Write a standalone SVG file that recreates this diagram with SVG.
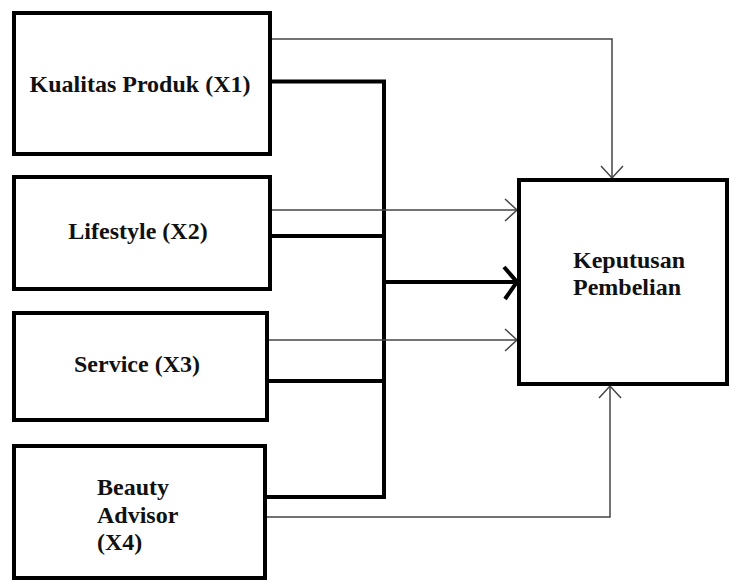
<svg xmlns="http://www.w3.org/2000/svg" width="732" height="581" viewBox="0 0 732 581">
<style>
.box{fill:#fff;stroke:#000;stroke-width:4}
.lbl{font-family:"Liberation Serif","Times New Roman",serif;font-weight:bold;font-size:24px;fill:#111}
.thin{fill:none;stroke:#444;stroke-width:1.5}
.thick{fill:none;stroke:#000;stroke-width:4}
</style>
<defs>
<marker id="arT" markerUnits="userSpaceOnUse" markerWidth="30" markerHeight="30" refX="0" refY="0" viewBox="-15 -15 30 30" orient="auto" overflow="visible">
<path d="M-12,-11 L0,0 L-12,11" fill="none" stroke="#444" stroke-width="1.5"/>
</marker>
<marker id="arK" markerUnits="userSpaceOnUse" markerWidth="40" markerHeight="40" refX="0" refY="0" viewBox="-20 -20 40 40" orient="auto" overflow="visible">
<path d="M-13,-15 L0,0 L-12,17" fill="none" stroke="#000" stroke-width="4"/>
</marker>
</defs>
<g id="connectors">
<path class="thick" d="M270,81.5 H384 V497 H265"/>
<path class="thick" d="M270,236 H384"/>
<path class="thick" d="M267,381 H384"/>
<path class="thick" d="M384,282 H517" marker-end="url(#arK)"/>
<path class="thin" d="M270,39 H612 V178" marker-end="url(#arT)"/>
<path class="thin" d="M270,210 H517" marker-end="url(#arT)"/>
<path class="thin" d="M267,340 H517" marker-end="url(#arT)"/>
<path class="thin" d="M265,517 H610 V386" marker-end="url(#arT)"/>
</g>
<g id="x1"><rect class="box" x="14" y="13" width="256" height="141"/><text class="lbl" x="140" y="92" text-anchor="middle">Kualitas Produk (X1)</text></g>
<g id="x2"><rect class="box" x="14" y="177" width="256" height="112"/><text class="lbl" x="138" y="239" text-anchor="middle">Lifestyle (X2)</text></g>
<g id="x3"><rect class="box" x="14" y="313" width="253" height="107"/><text class="lbl" x="137" y="372" text-anchor="middle">Service (X3)</text></g>
<g id="x4"><rect class="box" x="14" y="446" width="251" height="132"/><text class="lbl" x="97" y="495">Beauty</text><text class="lbl" x="97" y="523">Advisor</text><text class="lbl" x="97" y="550">(X4)</text></g>
<g id="y"><rect class="box" x="519" y="180" width="208" height="204"/><text class="lbl" x="573" y="268">Keputusan</text><text class="lbl" x="573" y="295">Pembelian</text></g>
</svg>
